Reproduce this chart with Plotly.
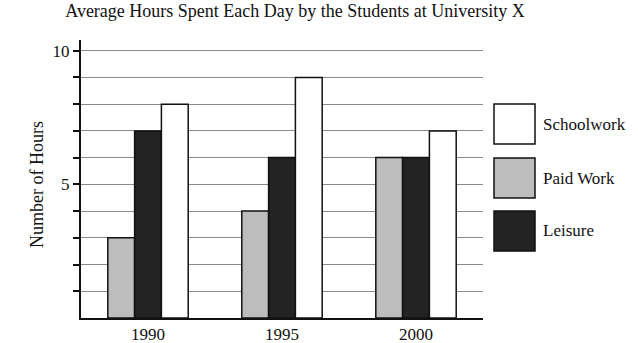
import plotly.graph_objects as go

years = ["1990", "1995", "2000"]
paid_work = [3, 4, 6]
leisure = [7, 6, 6]
schoolwork = [8, 9, 7]
series_names = ["Paid Work", "Leisure", "Schoolwork"]
series_colors = ["#bdbdbd", "#232323", "#ffffff"]
y_tick_vals = [1, 2, 3, 4, 5, 6, 7, 8, 9, 10]
y_tick_text = ["", "", "", "", "5", "", "", "", "", "10"]

FONT = "Liberation Serif"
FS = 17
W, H = 638, 343
L, R, T, B = 81, 483, 40, 318

fig = go.Figure()
for name, vals, col in zip(series_names, [paid_work, leisure, schoolwork], series_colors):
    fig.add_trace(go.Bar(x=years, y=vals, name=name, marker=dict(color=col, line=dict(color="#111", width=1.5)),
                         showlegend=False))

def px_x(p):
    return (p - L) / (R - L)

def px_y(p):
    return (B - p) / (B - T)

# custom legend
legend_items = [("Schoolwork", "#ffffff", 104), ("Paid Work", "#bdbdbd", 158), ("Leisure", "#232323", 211)]
shapes = []
annotations = []
for label, col, top in legend_items:
    shapes.append(dict(type="rect", xref="paper", yref="paper",
                       x0=px_x(494), x1=px_x(535), y0=px_y(top + 40), y1=px_y(top),
                       fillcolor=col, line=dict(color="#111", width=1.5)))
    annotations.append(dict(xref="paper", yref="paper", x=px_x(541), y=px_y(top + 20),
                            text=label, showarrow=False, xanchor="left", yanchor="middle",
                            font=dict(family=FONT, size=FS, color="#111")))

# y-axis title as rotated annotation
annotations.append(dict(xref="paper", yref="paper", x=px_x(37), y=px_y(185),
                        text="Number of Hours", showarrow=False, textangle=-90,
                        xanchor="center", yanchor="middle",
                        font=dict(family=FONT, size=18, color="#111")))

fig.update_layout(
    width=W, height=H,
    margin=dict(l=L, r=W - R, t=T, b=H - B),
    paper_bgcolor="white", plot_bgcolor="white",
    barmode="group", bargap=0.4, bargroupgap=0,
    title=dict(text="Average Hours Spent Each Day by the Students at University X",
               xref="paper", x=px_x(295), xanchor="center", y=1 - 11 / H, yanchor="middle",
               font=dict(family=FONT, size=18, color="#111")),
    font=dict(family=FONT, size=FS, color="#111"),
    shapes=shapes, annotations=annotations,
    xaxis=dict(showline=True, linecolor="#111", linewidth=2, ticks="", showgrid=False, automargin=False,
               tickfont=dict(family=FONT, size=FS, color="#111")),
    yaxis=dict(range=[0, 10.4], tickvals=y_tick_vals, ticktext=y_tick_text, automargin=False,
               ticks="outside", ticklen=6, tickwidth=1.5, tickcolor="#111",
               showline=True, linecolor="#111", linewidth=2,
               showgrid=True, gridcolor="#8a8a8a", gridwidth=1, zeroline=False,
               tickfont=dict(family=FONT, size=FS, color="#111")),
)

fig.write_html("out.html")
